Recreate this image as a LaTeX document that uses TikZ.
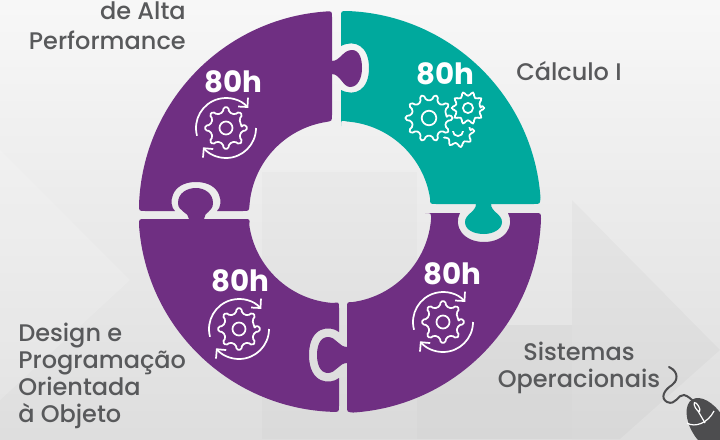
\documentclass[tikz,border=0pt]{standalone}
\usepackage{fontspec}
\setmainfont{Poppins Medium}[BoldFont=Poppins Bold]
\usetikzlibrary{arrows.meta}
\definecolor{pieceViolet}{HTML}{6F2F82}
\definecolor{pieceTeal}{HTML}{00A99D}
\definecolor{labelGray}{HTML}{58595B}
\definecolor{mouseGray}{HTML}{4D4D4F}
\tikzset{
    iconLine/.style={white, line width=1.3pt, line join=round},
    hoursText/.style={white, font=\fontsize{22}{22}\selectfont\bfseries},
    subjectText/.style={text=labelGray, font=\fontsize{18}{20.3}\selectfont, inner sep=0pt}
}
\tikzset{
    gearWheel/.pic={
		\draw[iconLine, rounded corners=1.2pt] (0:16) \foreach \i [evaluate=\i as \a using \i*360/#1] in {1,...,#1} {
			-- (\a-90/#1:16) -- (\a-50/#1:21) -- (\a+50/#1:21) -- (\a+90/#1:16)} -- cycle;
		\draw[iconLine] (0,0) circle (6.5);
	}
}
\tikzset{
    cycleGear/.pic={
		\pic {gearWheel={8}};
		\draw[iconLine, -{Straight Barb[length=5pt,width=10pt]}] (195:30) arc (195:42:30);
		\draw[iconLine, -{Straight Barb[length=5pt,width=10pt]}] (0:30) arc (0:-140:30);
	}
}
\begin{document}
\begin{tikzpicture}[x=0.75pt,y=0.75pt,yscale=-1]
	\useasboundingbox (0,0) rectangle (720,439);
	\shade[top color=white!97!black, bottom color=white!87!black] (0,0) rectangle (720,439);
	\fill[black, opacity=0.015] (262,172) -- (417,172) -- (417,439) -- (262,439) -- cycle;
	\fill[black, opacity=0.03] (417,325) -- (572,325) -- (572,439) -- (417,439) -- cycle;
	\fill[black, opacity=0.025] (572,200) -- (720,350) -- (620,439) -- (572,439) -- cycle;
	\fill[white, opacity=0.15] (0,150) -- (130,280) -- (0,400) -- cycle;

	% top left piece
	\fill[pieceViolet] (139,205) arc (182:266:201) .. controls (332,11) .. (332,18) -- (332,61)
		.. controls (340,61) and (343,50) .. (352,50) .. controls (360,50) and (362,60) .. (362,68)
		.. controls (362,78) and (358,87) .. (350,87) .. controls (343,87) and (340,74) .. (332,74)
		-- (332,115) .. controls (332,121) .. (326,122) arc (261:184:91) .. controls (249,211) .. (243,211)
		-- (217,211) .. controls (224,205) and (222,182) .. (196,182) .. controls (170,182) and (168,205) .. (175,211)
		-- (145,211) .. controls (139,211) .. cycle;
	% top right piece
	\fill[pieceTeal] (347,11) arc (272:356:201) .. controls (540,204) .. (534,204) -- (491,204)
		.. controls (491,212) and (502,214) .. (502,222) .. controls (502,230) and (492,234) .. (484,234)
		.. controls (474,234) and (465,230) .. (465,222) .. controls (465,214) and (476,212) .. (476,204)
		-- (436,204) .. controls (430,204) .. (430,198) arc (351:274.4:91) .. controls (341,120) .. (341,126)
		-- (341,90) .. controls (355,97) and (369,90) .. (369,68) .. controls (369,46) and (355,39) .. (341,46)
		-- (341,17) .. controls (341,11) .. cycle;
	% bottom left piece
	\fill[pieceViolet] (139,225) arc (176:92:201) .. controls (339,412) .. (339,406) -- (339,378)
		.. controls (330,385) and (309,384) .. (309,355) .. controls (309,326) and (330,325) .. (339,332)
		-- (339,308) .. controls (339,302) .. (333,303) arc (94:172:91) .. controls (250,219) .. (244,219)
		-- (204,219) .. controls (204,212) and (213,212) .. (213,203) .. controls (213,193) and (204,188) .. (196,188)
		.. controls (187,188) and (178,193) .. (178,203) .. controls (178,212) and (189,212) .. (189,219)
		-- (145,219) .. controls (139,219) .. cycle;
	% bottom right piece
	\fill[pieceViolet] (541,219) arc (2:86.3:201) .. controls (347,412) .. (347,406) -- (347,363)
		.. controls (339,363) and (336,373) .. (328,373) .. controls (320,373) and (317,364) .. (317,355)
		.. controls (317,346) and (320,337) .. (328,337) .. controls (336,337) and (339,347) .. (347,347)
		-- (347,308) .. controls (347,302) .. (353,302) arc (82:4:91) .. controls (431,213) .. (425,213)
		-- (460,213) .. controls (453,226) and (463,242) .. (484,242) .. controls (505,242) and (515,226) .. (508,213)
		-- (535,213) .. controls (541,213) .. cycle;

	\node[hoursText] (hoursA) at (233,82) {80h};
	\node[hoursText] (hoursB) at (445,74) {80h};
	\node[hoursText] (hoursC) at (240,281) {80h};
	\node[hoursText] (hoursD) at (452,274) {80h};

	\pic at (226,128) {cycleGear};
	\pic at (239,329) {cycleGear};
	\pic at (443,322) {cycleGear};

	\begin{scope}
		\clip (440,127) rectangle (480,152);
		\pic[scale=0.78] at (458,131) {gearWheel={9}};
	\end{scope}
	\fill[pieceTeal] (450,122) rectangle (466,131);
	\fill[pieceTeal] (429,118) circle (24);
	\fill[pieceTeal] (468,108) circle (18);
	\pic[scale=1.12] at (429,118) {gearWheel={10}};
	\pic[scale=0.78] at (468,108) {gearWheel={10}};

	\node[subjectText, anchor=east, align=right] (highPerf) at (186,26) {de Alta\\[2.2pt]Performance};
	\node[subjectText, anchor=west] (calculus) at (516,71) {Cálculo I};
	\node[subjectText, anchor=west, align=left] (design) at (18,375.5) {Design e\\Programação\\Orientada\\à Objeto};
	\node[subjectText, align=center] (systems) at (579,368) {Sistemas\\Operacionais};

	\fill[mouseGray] (708,425) ellipse [x radius=17, y radius=30, rotate=-32];
	\draw[mouseGray, line width=1.5pt, line cap=round] (669,367) .. controls (680,372) and (677,382) .. (672,385)
		.. controls (664,390) and (660,398) .. (667,402) .. controls (676,406) and (678,394) .. (684,395)
		.. controls (688,396) and (691,399) .. (694,402);
	\draw[white, line width=0.9pt] (687,423) .. controls (695,428) and (708,423) .. (714,411);
	\draw[white, line width=0.9pt] (698,411) -- (705,423);
	\draw[white, line width=0.9pt, rotate around={-30:(697,407)}] (697,407) ellipse [x radius=1.8, y radius=5];
\end{tikzpicture}
\end{document}
